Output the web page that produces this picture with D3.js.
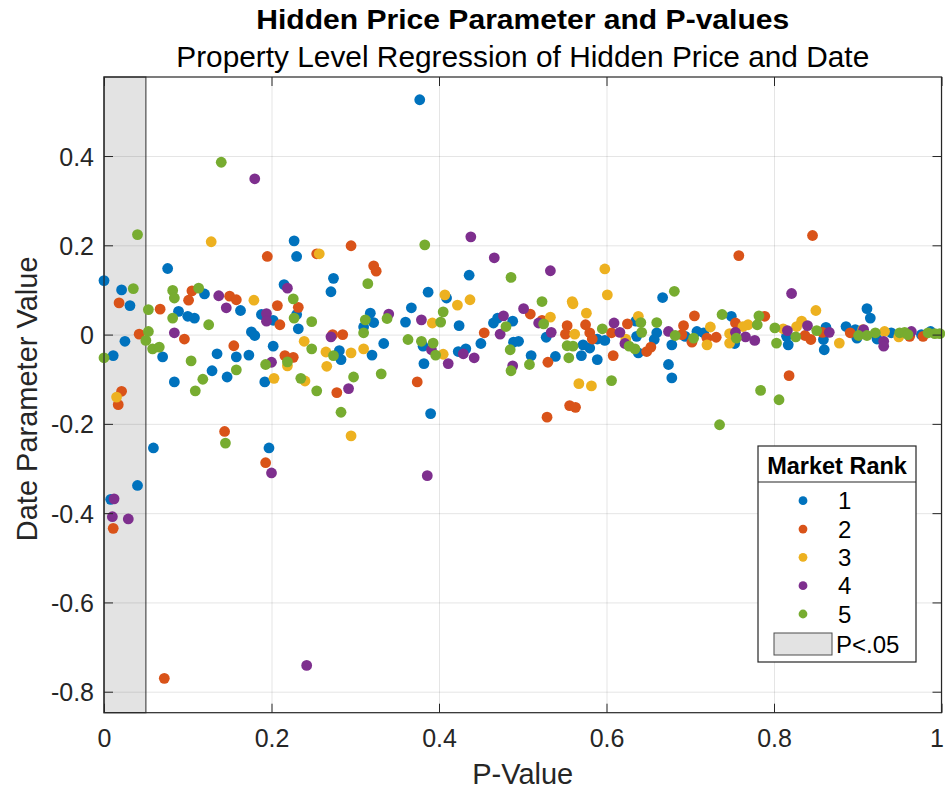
<!DOCTYPE html>
<html><head><meta charset="utf-8">
<script src="https://cdn.jsdelivr.net/npm/d3@7"></script>
<style>
body{margin:0;background:#fff}
text{font-family:"Liberation Sans",Arial,Helvetica,sans-serif}
</style>
</head><body>
<svg id="chart" width="945" height="791"></svg>
<script>
// ---------------- DATA ----------------
const chartTitle = "Hidden Price Parameter and P-values";
const chartSubtitle = "Property Level Regression of Hidden Price and Date";
const xLabel = "P-Value";
const yLabel = "Date Parameter Value";
const legendTitle = "Market Rank";
const seriesNames = ["1","2","3","4","5"];
const seriesColors = ["#0072BD","#D95319","#EDB120","#7E2F8E","#77AC30"];
const sigLabel = "P<.05";
const sigCutoff = 0.05;
const xTicks = [0,0.2,0.4,0.6,0.8,1];
const xTickLabels = ["0","0.2","0.4","0.6","0.8","1"];
const yTicks = [-0.8,-0.6,-0.4,-0.2,0,0.2,0.4];
const yTickLabels = ["-0.8","-0.6","-0.4","-0.2","0","0.2","0.4"];
const xLimits = [0,1];
const yLimits = [-0.847,0.577];

// [p-value, date parameter]
const rank1 = [[0.0,0.121],[0.021,0.100],[0.076,0.148],[0.227,0.210],[0.230,0.175],[0.120,0.091],[0.215,0.112],[0.031,0.065],[0.089,0.052],[0.100,0.041],[0.108,0.037],[0.163,0.054],[0.188,0.045],[0.202,0.032],[0.230,0.045],[0.232,0.013],[0.025,-0.015],[0.176,0.006],[0.180,-0.002],[0.011,-0.047],[0.070,-0.050],[0.135,-0.043],[0.158,-0.050],[0.173,-0.046],[0.202,-0.026],[0.129,-0.081],[0.147,-0.095],[0.192,-0.106],[0.084,-0.106],[0.059,-0.254],[0.197,-0.254],[0.040,-0.338],[0.008,-0.369],[0.274,0.126],[0.271,0.096],[0.436,0.133],[0.387,0.095],[0.409,0.082],[0.377,0.526],[0.318,0.048],[0.322,0.027],[0.310,0.017],[0.360,0.028],[0.367,0.060],[0.424,0.020],[0.465,0.026],[0.470,0.037],[0.488,0.030],[0.450,-0.020],[0.489,-0.017],[0.381,-0.026],[0.423,-0.038],[0.432,-0.032],[0.382,-0.065],[0.334,-0.020],[0.320,-0.046],[0.281,-0.036],[0.283,-0.056],[0.390,-0.177],[0.667,0.083],[0.528,-0.006],[0.495,-0.015],[0.598,-0.013],[0.589,-0.010],[0.635,0.030],[0.636,-0.004],[0.638,-0.041],[0.589,-0.056],[0.570,-0.047],[0.580,-0.030],[0.572,-0.023],[0.539,-0.049],[0.510,-0.047],[0.674,-0.067],[0.678,-0.097],[0.660,0.004],[0.657,-0.011],[0.678,-0.023],[0.708,0.007],[0.716,0.004],[0.694,-0.004],[0.911,0.058],[0.915,0.037],[0.749,0.041],[0.753,-0.020],[0.815,-0.004],[0.817,-0.023],[0.862,0.016],[0.859,-0.011],[0.860,-0.034],[0.886,0.018],[0.899,-0.008],[0.897,0.011],[0.923,-0.010],[0.940,0.004],[0.976,0.0],[0.987,0.007]];
const rank2 = [[0.195,0.175],[0.105,0.098],[0.150,0.086],[0.158,0.078],[0.018,0.071],[0.101,0.077],[0.067,0.057],[0.207,0.065],[0.232,0.061],[0.210,0.022],[0.042,0.001],[0.096,-0.010],[0.155,-0.025],[0.216,-0.047],[0.226,-0.051],[0.021,-0.127],[0.017,-0.157],[0.144,-0.217],[0.193,-0.287],[0.011,-0.434],[0.072,-0.770],[0.254,0.181],[0.295,0.199],[0.322,0.154],[0.325,0.142],[0.273,0.0],[0.285,0.0],[0.278,-0.130],[0.374,-0.106],[0.454,0.004],[0.509,0.046],[0.523,0.032],[0.553,0.020],[0.551,0.001],[0.575,0.022],[0.580,0.004],[0.583,-0.010],[0.606,0.004],[0.625,0.024],[0.648,-0.038],[0.653,-0.028],[0.608,-0.047],[0.530,-0.062],[0.556,-0.159],[0.563,-0.163],[0.529,-0.185],[0.705,0.042],[0.692,0.020],[0.690,0.0],[0.702,-0.017],[0.720,-0.008],[0.731,-0.006],[0.846,0.222],[0.758,0.177],[0.789,0.041],[0.754,0.026],[0.837,-0.002],[0.844,-0.011],[0.858,0.005],[0.891,0.004],[0.962,-0.004],[0.978,-0.004],[0.818,-0.092]];
const rank3 = [[0.128,0.208],[0.179,0.077],[0.239,-0.015],[0.219,-0.070],[0.203,-0.098],[0.240,-0.104],[0.015,-0.140],[0.257,0.181],[0.407,0.089],[0.437,0.078],[0.422,0.066],[0.392,0.026],[0.405,-0.044],[0.265,-0.039],[0.295,-0.041],[0.310,-0.032],[0.266,-0.071],[0.295,-0.227],[0.598,0.147],[0.601,0.089],[0.559,0.074],[0.560,0.069],[0.576,0.048],[0.533,0.039],[0.562,0.001],[0.638,0.041],[0.623,-0.010],[0.567,-0.110],[0.582,-0.115],[0.724,0.017],[0.720,-0.023],[0.850,0.054],[0.763,0.018],[0.769,0.022],[0.747,0.002],[0.747,-0.019],[0.811,0.013],[0.833,0.030],[0.827,0.018],[0.878,-0.019],[0.906,0.011],[0.932,0.007],[0.949,-0.005]];
const rank4 = [[0.180,0.349],[0.137,0.087],[0.219,0.104],[0.146,0.060],[0.194,0.047],[0.194,0.030],[0.084,0.004],[0.200,-0.062],[0.012,-0.368],[0.010,-0.408],[0.029,-0.413],[0.242,-0.741],[0.200,-0.310],[0.386,-0.316],[0.438,0.219],[0.466,0.172],[0.340,0.046],[0.271,-0.005],[0.379,0.033],[0.477,0.042],[0.473,0.001],[0.488,-0.070],[0.391,-0.034],[0.411,-0.065],[0.429,-0.043],[0.442,-0.052],[0.292,-0.121],[0.533,0.143],[0.501,0.058],[0.519,0.026],[0.534,0.005],[0.609,0.026],[0.616,0.005],[0.622,-0.020],[0.674,0.007],[0.821,0.092],[0.754,0.005],[0.766,-0.005],[0.777,-0.013],[0.816,0.009],[0.840,0.020],[0.866,0.005],[0.907,0.011],[0.931,-0.015],[0.931,-0.026],[0.964,0.007]];
const rank5 = [[0.140,0.386],[0.040,0.224],[0.035,0.103],[0.082,0.099],[0.113,0.104],[0.226,0.080],[0.084,0.082],[0.053,0.056],[0.082,0.037],[0.227,0.037],[0.248,0.029],[0.125,0.022],[0.053,0.007],[0.050,-0.013],[0.248,-0.032],[0.058,-0.032],[0.066,-0.028],[0.0,-0.052],[0.193,-0.067],[0.219,-0.061],[0.104,-0.059],[0.158,-0.079],[0.235,-0.098],[0.118,-0.100],[0.109,-0.126],[0.145,-0.243],[0.315,0.114],[0.383,0.201],[0.486,0.128],[0.312,0.033],[0.338,0.036],[0.310,0.004],[0.405,0.051],[0.402,0.028],[0.480,0.018],[0.485,-0.034],[0.486,-0.081],[0.363,-0.011],[0.379,-0.015],[0.393,-0.019],[0.396,-0.046],[0.274,-0.047],[0.298,-0.095],[0.331,-0.088],[0.254,-0.126],[0.283,-0.174],[0.681,0.097],[0.523,0.074],[0.525,0.024],[0.595,0.013],[0.641,0.027],[0.642,0.005],[0.634,-0.032],[0.627,-0.026],[0.553,-0.025],[0.560,-0.026],[0.555,-0.052],[0.508,-0.067],[0.606,-0.103],[0.735,-0.202],[0.660,0.027],[0.682,-0.002],[0.738,0.045],[0.704,-0.008],[0.782,0.042],[0.780,0.022],[0.755,-0.008],[0.801,0.015],[0.803,-0.019],[0.826,-0.005],[0.851,0.009],[0.901,-0.002],[0.911,-0.002],[0.921,0.004],[0.950,0.004],[0.956,0.005],[0.960,0.0],[0.984,0.004],[0.992,0.002],[0.998,0.002],[0.784,-0.125],[0.806,-0.146]];
const allSeries = [rank1, rank2, rank3, rank4, rank5];

// ---------------- LAYOUT ----------------
const W = 945, H = 791;
const M = {left:104, right:945-941.5, top:77, bottom:791-712.7};
const iw = W - M.left - M.right, ih = H - M.top - M.bottom;
const axisColor = "#262626";
const fontTick = 25, fontLabel = 29;

const svg = d3.select("#chart");
svg.append("rect").attr("width",W).attr("height",H).attr("fill","#fff");
const g = svg.append("g").attr("transform",`translate(${M.left},${M.top})`);

const x = d3.scaleLinear().domain(xLimits).range([0, iw]);
const y = d3.scaleLinear().domain(yLimits).range([ih, 0]);

// significance shading
g.append("rect")
  .attr("x", x(xLimits[0])).attr("y", 0)
  .attr("width", x(sigCutoff) - x(xLimits[0])).attr("height", ih)
  .attr("fill", "#e3e3e3").attr("stroke", "#4d4d4d").attr("stroke-width", 1.2);

// grid
const gridX = g.append("g").attr("transform",`translate(0,${ih})`)
  .call(d3.axisBottom(x).tickValues(xTicks).tickSize(-ih).tickFormat(""));
const gridY = g.append("g")
  .call(d3.axisLeft(y).tickValues(yTicks).tickSize(-iw).tickFormat(""));
[gridX, gridY].forEach(a => {
  a.select(".domain").remove();
  a.selectAll("line").attr("stroke", axisColor).attr("stroke-opacity", 0.12).attr("stroke-width", 1);
});

// points
allSeries.forEach((s, i) => {
  g.append("g").selectAll("circle").data(s).join("circle")
    .attr("cx", d => x(d[0])).attr("cy", d => y(d[1]))
    .attr("r", 5.4).attr("fill", seriesColors[i]);
});

// axes with inward ticks
const tk = 9;
const axB = g.append("g").attr("transform",`translate(0,${ih})`)
  .call(d3.axisBottom(x).tickValues(xTicks).tickFormat((d,i)=>xTickLabels[i]).tickSizeInner(-tk).tickSizeOuter(0).tickPadding(17));
const axL = g.append("g")
  .call(d3.axisLeft(y).tickValues(yTicks).tickFormat((d,i)=>yTickLabels[i]).tickSizeInner(-tk).tickSizeOuter(0).tickPadding(10));
const axT = g.append("g")
  .call(d3.axisTop(x).tickValues(xTicks).tickFormat("").tickSizeInner(-tk).tickSizeOuter(0));
const axR = g.append("g").attr("transform",`translate(${iw},0)`)
  .call(d3.axisRight(y).tickValues(yTicks).tickFormat("").tickSizeInner(-tk).tickSizeOuter(0));
[axB, axL, axT, axR].forEach(a => {
  a.select(".domain").remove();
  a.selectAll("line").attr("stroke", axisColor).attr("stroke-width", 1);
  a.selectAll("text").attr("fill", axisColor).attr("font-size", fontTick)
    .attr("font-family", '"Liberation Sans",Arial,sans-serif');
});
axL.selectAll("text").attr("dy", "0.36em");
// keep last x label inside the canvas (reference shows it flush at right edge)
axB.selectAll("text").filter((d,i)=>i===xTicks.length-1).attr("text-anchor","end").attr("dx", 2);

// box
g.append("rect").attr("width", iw).attr("height", ih)
  .attr("fill","none").attr("stroke", axisColor).attr("stroke-width", 1.2);

// titles
const cx = M.left + iw/2;
svg.append("text").attr("x", cx).attr("y", 29).attr("text-anchor","middle")
  .attr("font-weight","bold").attr("font-size", 28.5).attr("fill","#000")
  .attr("textLength", 533).attr("lengthAdjust","spacingAndGlyphs").text(chartTitle);
svg.append("text").attr("x", cx).attr("y", 67).attr("text-anchor","middle")
  .attr("font-size", 29).attr("fill","#000")
  .attr("textLength", 693).attr("lengthAdjust","spacingAndGlyphs").text(chartSubtitle);

// axis labels
svg.append("text").attr("x", cx).attr("y", 784).attr("text-anchor","middle")
  .attr("font-size", fontLabel).attr("fill", axisColor).text(xLabel);
svg.append("text").attr("transform", `translate(37,${M.top + ih/2 + 4}) rotate(-90)`)
  .attr("text-anchor","middle").attr("font-size", fontLabel).attr("fill", axisColor).text(yLabel);

// legend
const lg = svg.append("g");
const L = {x0:758, y0:446, x1:916, y1:662, sep:482};
lg.append("rect").attr("x",L.x0).attr("y",L.y0).attr("width",L.x1-L.x0).attr("height",L.y1-L.y0)
  .attr("fill","#fff").attr("stroke",axisColor).attr("stroke-width",1.2);
lg.append("line").attr("x1",L.x0).attr("x2",L.x1).attr("y1",L.sep).attr("y2",L.sep)
  .attr("stroke",axisColor).attr("stroke-width",1.2);
lg.append("text").attr("x",(L.x0+L.x1)/2).attr("y",474).attr("text-anchor","middle")
  .attr("font-weight","bold").attr("font-size",23.5).attr("fill","#000").text(legendTitle);
const entryY = d3.scaleLinear().domain([0,4]).range([500.7,614]);
seriesNames.forEach((n,i) => {
  lg.append("circle").attr("cx",803).attr("cy",entryY(i)).attr("r",4.4).attr("fill",seriesColors[i]);
  lg.append("text").attr("x",838).attr("y",entryY(i)).attr("dy","0.36em")
    .attr("font-size",24).attr("fill","#000").text(n);
});
lg.append("rect").attr("x",774).attr("y",633).attr("width",58).attr("height",22)
  .attr("fill","#e3e3e3").attr("stroke","#4d4d4d").attr("stroke-width",1);
lg.append("text").attr("x",836).attr("y",644).attr("dy","0.36em")
  .attr("font-size",24).attr("fill","#000").text(sigLabel);
</script>
</body></html>
